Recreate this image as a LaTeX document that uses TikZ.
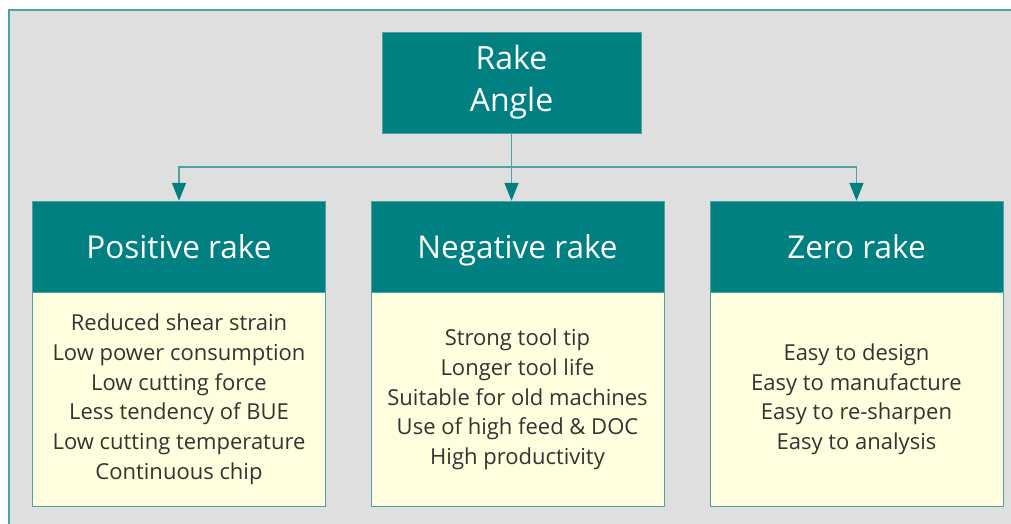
\documentclass[tikz,border=0pt]{standalone}
\usepackage{fontspec}
\setmainfont{Open Sans}
\usetikzlibrary{shapes,arrows.meta,positioning}
\definecolor{tealbox}{HTML}{008080}
\definecolor{tealline}{HTML}{4BA3A3}
\definecolor{creambox}{HTML}{FFFFE0}
\definecolor{panelgray}{HTML}{DFDFDF}
\tikzstyle{top} = [draw=tealline, fill=tealbox, text=white, font=\fontsize{32}{42}\selectfont,
    minimum width=259pt, minimum height=101pt, inner sep=0pt, align=center]
\tikzstyle{head} = [draw=tealline, fill=tealbox, text=white, font=\fontsize{31.5}{36}\selectfont,
    text height=23pt, text depth=0pt,
    minimum width=293pt, minimum height=91pt, inner sep=0pt, align=center]
\tikzstyle{body} = [draw=tealline, fill=creambox, text=black!80, font=\fontsize{22}{29.7}\selectfont,
    minimum width=293pt, minimum height=214pt, inner sep=0pt, align=center]
\tikzset{
  line/.style ={draw=tealline, line width=1.5pt, -{Triangle[width=14pt,length=18pt,color=tealbox]}}
}

\begin{document}
\begin{tikzpicture}[x=1pt,y=-1pt]
  \useasboundingbox (0,0) rectangle (1011,524);
  \fill[white] (0,0) rectangle (1011,524);
  \draw[tealline, line width=1.5pt, fill=panelgray] (9,10) rectangle (1020,535);

  \node[top] (rake) at (511.5,82.5) {Rake\\Angle};
  \node[head] (positive) at (179,246.5) {Positive rake};
  \node[head] (negative) at (517.5,246.5) {Negative rake};
  \node[head] (zero) at (856.5,246.5) {Zero rake};
  \node[body,below=0pt of positive] (positive_list) {Reduced shear strain\\Low power consumption\\Low cutting force\\Less tendency of BUE\\Low cutting temperature\\Continuous chip};
  \node[body,below=0pt of negative] (negative_list) {Strong tool tip\\Longer tool life\\Suitable for old machines\\Use of high feed \& DOC\\High productivity};
  \node[body,below=0pt of zero] (zero_list) {Easy to design\\Easy to manufacture\\Easy to re-sharpen\\Easy to analysis};
  \coordinate (junction) at (511.5,167);

  \begin{scope}[every path/.style=line]
    \path (rake.south) -- (junction) -| (positive.north);
    \path (junction) -| (zero.north);
    \path (rake.south) -- (rake.south |- negative.north);
  \end{scope}

\end{tikzpicture}
\end{document}
